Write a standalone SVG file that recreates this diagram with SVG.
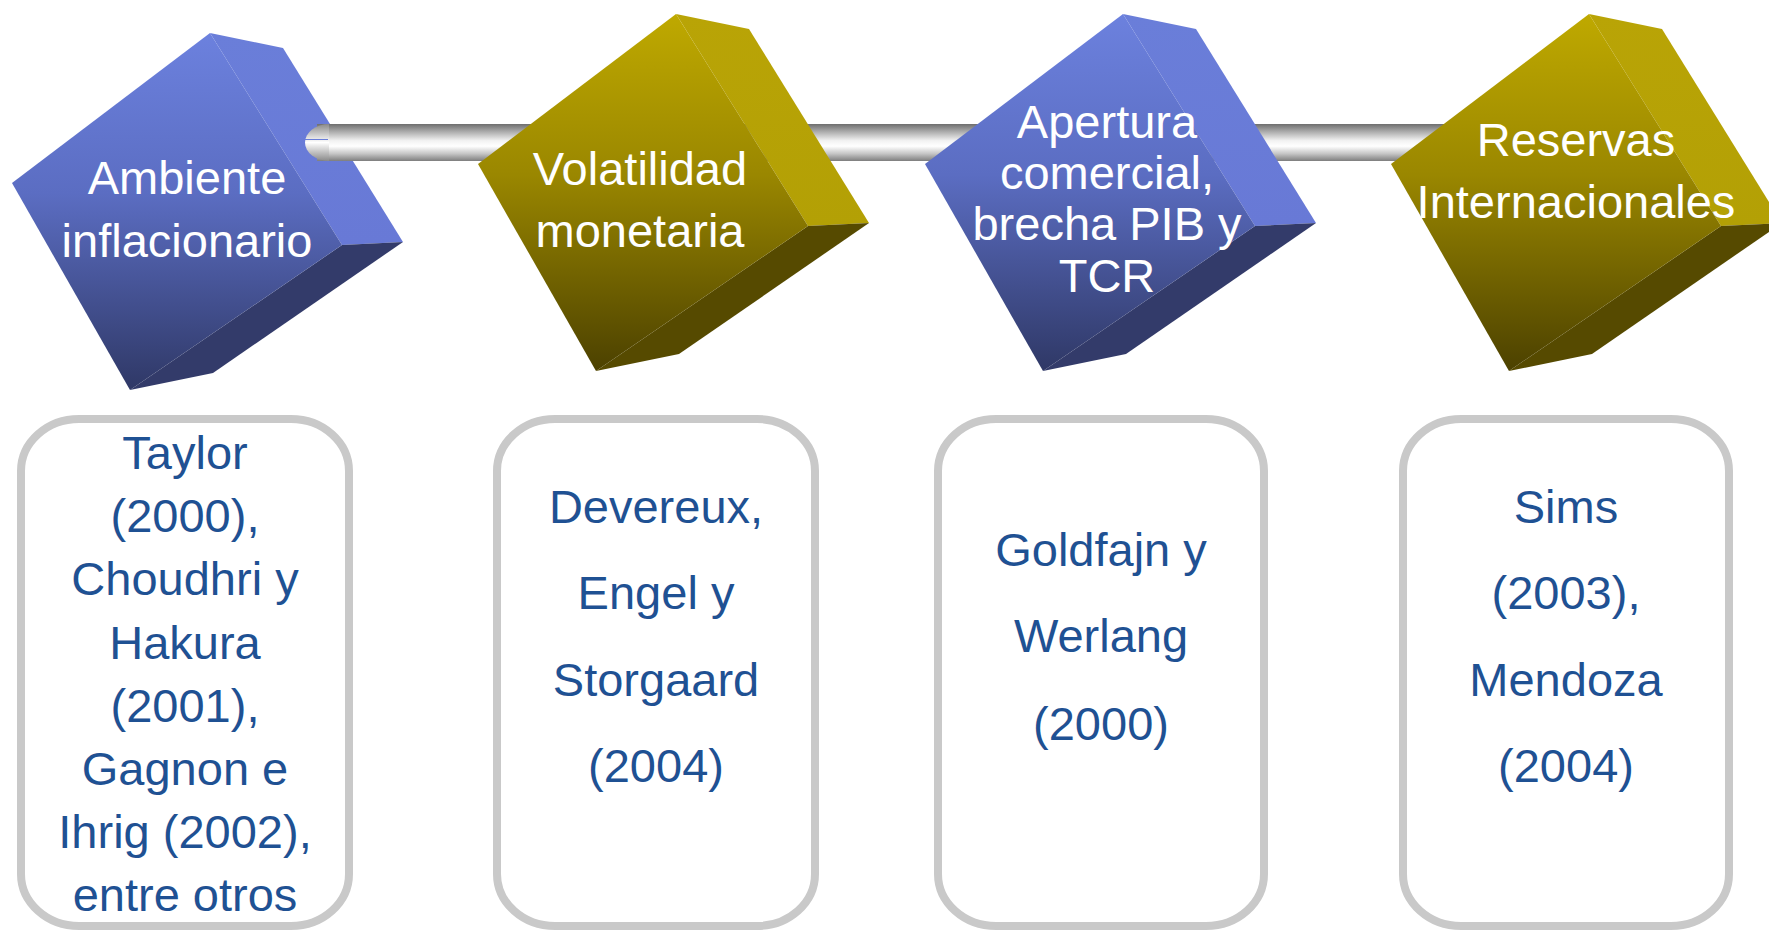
<svg xmlns="http://www.w3.org/2000/svg" width="1769" height="930" viewBox="0 0 1769 930">
<defs>
<linearGradient id="gBlue" x1="0" y1="0" x2="0" y2="1">
<stop offset="0" stop-color="#6c81de"/>
<stop offset="0.45" stop-color="#5b6dc2"/>
<stop offset="1" stop-color="#2f3866"/>
</linearGradient>
<linearGradient id="gBlueSide" x1="0" y1="0" x2="0" y2="1">
<stop offset="0" stop-color="#6a7ed9"/>
<stop offset="1" stop-color="#6879d6"/>
</linearGradient>
<linearGradient id="gGold" x1="0" y1="0" x2="0" y2="1">
<stop offset="0" stop-color="#bfa900"/>
<stop offset="0.45" stop-color="#9a8700"/>
<stop offset="1" stop-color="#4c4100"/>
</linearGradient>
<linearGradient id="gGoldSide" x1="0" y1="0" x2="0" y2="1">
<stop offset="0" stop-color="#b9a406"/>
<stop offset="1" stop-color="#b3a005"/>
</linearGradient>
<linearGradient id="gBar" x1="0" y1="0" x2="0" y2="1">
<stop offset="0" stop-color="#6e6e6e"/>
<stop offset="0.18" stop-color="#a4a4a4"/>
<stop offset="0.45" stop-color="#f2f2f2"/>
<stop offset="0.6" stop-color="#ffffff"/>
<stop offset="0.8" stop-color="#c6c6c6"/>
<stop offset="1" stop-color="#7e7e7e"/>
</linearGradient>
<linearGradient id="gCap" x1="0" y1="0" x2="0" y2="1">
<stop offset="0" stop-color="#8a8a8a"/>
<stop offset="0.5" stop-color="#ffffff"/>
<stop offset="1" stop-color="#8a8a8a"/>
</linearGradient>
</defs>
<style>
.dt{font-family:"Liberation Sans",Arial,sans-serif;font-size:47px;fill:#ffffff;text-anchor:middle}
.bt{font-family:"Liberation Sans",Arial,sans-serif;font-size:47px;fill:#1f5193;text-anchor:middle}
.box{fill:#ffffff;stroke:#c9c9c9;stroke-width:8}
.bF{fill:url(#gBlue)}
.bS{fill:url(#gBlueSide)}
.bB{fill:#333b6a}
.yF{fill:url(#gGold)}
.yS{fill:url(#gGoldSide)}
.yB{fill:#564a00}
</style>

<g id="node-ambiente">
<polygon class="bS" points="210,33 283,48 403,242 342,245"/>
<polygon class="bB" points="342,245 403,242 213,373 130,390"/>
<polygon class="bF" points="210,33 12,183 130,390 342,245"/>
<text class="dt" x="187" y="194">Ambiente</text>
<text class="dt" x="187" y="257">inflacionario</text>
</g>

<g id="connectors">
<rect x="317" y="124" width="1140" height="37" fill="url(#gBar)"/>
<path d="M329,124 A24,18.5 0 0 0 329,161 Z" fill="url(#gCap)"/>
<line x1="305" y1="139.5" x2="328" y2="139.5" stroke="#6a7ed9" stroke-width="1"/>
</g>

<g id="node-volatilidad" transform="translate(466,-19)">
<polygon class="yS" points="210,33 283,48 403,242 342,245"/>
<polygon class="yB" points="342,245 403,242 213,373 130,390"/>
<polygon class="yF" points="210,33 12,183 130,390 342,245"/>
</g>
<g id="label-volatilidad">
<text class="dt" x="640" y="185">Volatilidad</text>
<text class="dt" x="640" y="247">monetaria</text>
</g>

<g id="node-apertura" transform="translate(913,-19)">
<polygon class="bS" points="210,33 283,48 403,242 342,245"/>
<polygon class="bB" points="342,245 403,242 213,373 130,390"/>
<polygon class="bF" points="210,33 12,183 130,390 342,245"/>
</g>
<g id="label-apertura">
<text class="dt" x="1107" y="138">Apertura</text>
<text class="dt" x="1107" y="189">comercial,</text>
<text class="dt" x="1107" y="240">brecha PIB y</text>
<text class="dt" x="1107" y="292">TCR</text>
</g>

<g id="node-reservas" transform="translate(1379,-19)">
<polygon class="yS" points="210,33 283,48 403,242 342,245"/>
<polygon class="yB" points="342,245 403,242 213,373 130,390"/>
<polygon class="yF" points="210,33 12,183 130,390 342,245"/>
</g>
<g id="label-reservas">
<text class="dt" x="1576" y="156">Reservas</text>
<text class="dt" x="1576" y="218">Internacionales</text>
</g>

<g id="box-1">
<rect class="box" x="21" y="419" width="328" height="507" rx="58" ry="52"/>
<text class="bt" x="185" y="469">Taylor</text>
<text class="bt" x="185" y="532">(2000),</text>
<text class="bt" x="185" y="595">Choudhri y</text>
<text class="bt" x="185" y="659">Hakura</text>
<text class="bt" x="185" y="722">(2001),</text>
<text class="bt" x="185" y="785">Gagnon e</text>
<text class="bt" x="185" y="848">Ihrig (2002),</text>
<text class="bt" x="185" y="911">entre otros</text>
</g>

<g id="box-2">
<rect class="box" x="497" y="419" width="318" height="507" rx="58" ry="52"/>
<text class="bt" x="656" y="523">Devereux,</text>
<text class="bt" x="656" y="609">Engel y</text>
<text class="bt" x="656" y="696">Storgaard</text>
<text class="bt" x="656" y="782">(2004)</text>
</g>

<g id="box-3">
<rect class="box" x="938" y="419" width="326" height="507" rx="58" ry="52"/>
<text class="bt" x="1101" y="566">Goldfajn y</text>
<text class="bt" x="1101" y="652">Werlang</text>
<text class="bt" x="1101" y="740">(2000)</text>
</g>

<g id="box-4">
<rect class="box" x="1403" y="419" width="326" height="507" rx="58" ry="52"/>
<text class="bt" x="1566" y="523">Sims</text>
<text class="bt" x="1566" y="609">(2003),</text>
<text class="bt" x="1566" y="696">Mendoza</text>
<text class="bt" x="1566" y="782">(2004)</text>
</g>
</svg>
